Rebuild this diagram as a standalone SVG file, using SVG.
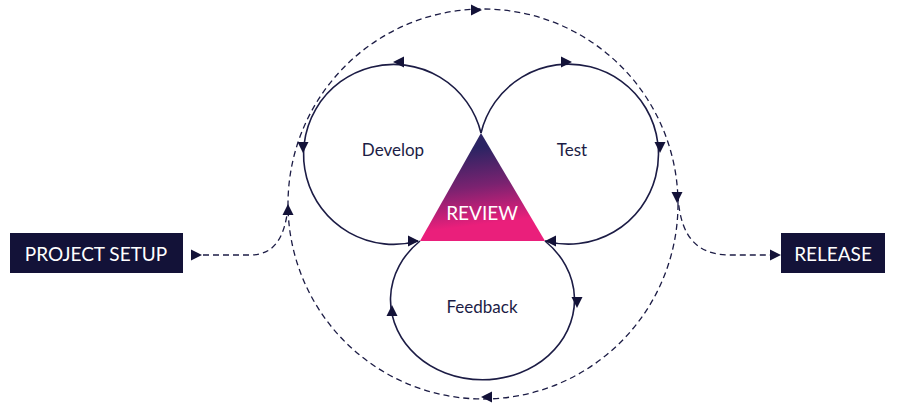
<svg xmlns="http://www.w3.org/2000/svg" width="900" height="412" viewBox="0 0 900 412">
<style>
.loop{fill:none;stroke:#1c1c45;stroke-width:1.6}
.dash{fill:none;stroke:#1c1c45;stroke-width:1.3;stroke-dasharray:6 4}
.lbl{font-family:Lato,"Liberation Sans",sans-serif;font-size:17px;fill:#1c1c45;text-anchor:middle}
.box{fill:#131238}
.btxt{font-family:Lato,"Liberation Sans",sans-serif;font-size:19px;fill:#fff;text-anchor:middle}
.ah{fill:#131238}
</style>
<defs>
<linearGradient id="g" x1="0" y1="0" x2="0.15" y2="1">
<stop offset="0.2" stop-color="#2b2463"/>
<stop offset="0.55" stop-color="#7a2270"/>
<stop offset="0.9" stop-color="#ea1f7b"/>
</linearGradient>
<path id="ah" d="M6,0 L-5,-5.5 L-5,5.5 Z"/>
</defs>
<g id="connectors">
<circle class="dash" cx="483" cy="204" r="195"/>
<path class="dash" d="M193,255 L250,255 C276,255 285,235 288,207"/>
<path class="dash" d="M678,195 C680,240 700,255 730,255 L778,255"/>
<path class="loop" d="M481,133 A90 90 0 1 0 418,241"/>
<path class="loop" d="M481,133 A90 90 0 1 1 545,241"/>
<path class="loop" d="M420,241 A92 80 0 1 0 545,241"/>
<g class="ah">
<use href="#ah" transform="translate(476,10)"/>
<use href="#ah" transform="translate(677,197) rotate(90)"/>
<use href="#ah" transform="translate(487,397) rotate(180)"/>
<use href="#ah" transform="translate(288,210) rotate(-90)"/>
<use href="#ah" transform="translate(196,255)"/>
<use href="#ah" transform="translate(775,255)"/>
<use href="#ah" transform="translate(399,62) rotate(180)"/>
<use href="#ah" transform="translate(303,147) rotate(90)"/>
<use href="#ah" transform="translate(413,241)"/>
<use href="#ah" transform="translate(566,62)"/>
<use href="#ah" transform="translate(660,147) rotate(90)"/>
<use href="#ah" transform="translate(551,241) rotate(180)"/>
<use href="#ah" transform="translate(577,302) rotate(90)"/>
<use href="#ah" transform="translate(392,311) rotate(-90)"/>
</g>
</g>
<g id="review">
<polygon points="481,133 420,241 545,241" fill="url(#g)"/>
<text x="482" y="220" class="btxt" font-size="17">REVIEW</text>
</g>
<g id="develop"><text x="393" y="156" class="lbl">Develop</text></g>
<g id="test"><text x="572" y="156" class="lbl">Test</text></g>
<g id="feedback"><text x="482" y="313" class="lbl">Feedback</text></g>
<g id="setup"><rect class="box" x="10" y="233" width="173" height="40"/><text x="96" y="261" class="btxt">PROJECT SETUP</text></g>
<g id="release"><rect class="box" x="781" y="233" width="104" height="40"/><text x="833" y="261" class="btxt">RELEASE</text></g>
</svg>
